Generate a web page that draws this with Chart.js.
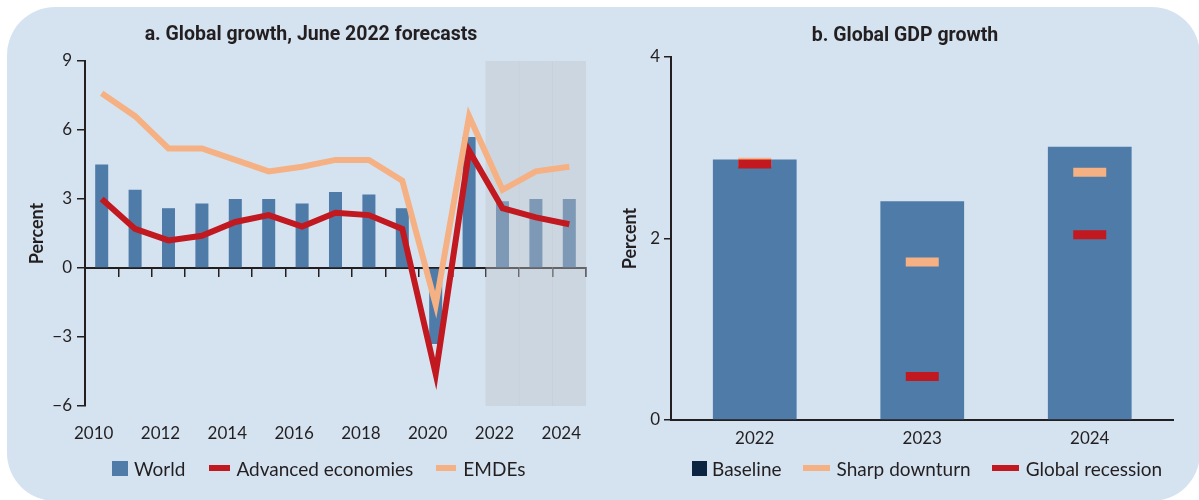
<!DOCTYPE html>
<html>
<head>
<meta charset="utf-8">
<script src="https://cdn.jsdelivr.net/npm/chart.js@4.4.0/dist/chart.umd.min.js"></script>
<style>
  html, body { margin: 0; padding: 0; background: #fff; overflow: hidden; }
  body { width: 1199px; height: 500px; position: relative; }
  #panel { position: absolute; left: 7px; top: 7px; width: 1193px; height: 494px; background: #d5e3f1; border-radius: 48px; }
  #chartA { position: absolute; left: 0; top: 0; }
  #chartB { position: absolute; left: 610px; top: 0; }
  .legend { position: absolute; top: 457px; height: 22px; display: flex; align-items: center;
    font: 19px Lato, "Open Sans", sans-serif; color: #231f20; white-space: nowrap; }
  .legend .item { display: flex; align-items: center; }
  .legend .sw { display: inline-block; }
  #legendA { left: 112px; }
  #legendB { left: 692px; }
</style>
</head>
<body>
<div id="panel"></div>
<canvas id="chartA" width="610" height="500"></canvas>
<canvas id="chartB" width="589" height="500"></canvas>
<div id="legendA" class="legend"></div>
<div id="legendB" class="legend"></div>
<script>
// panel a
const years = ["2010", "2011", "2012", "2013", "2014", "2015", "2016", "2017", "2018", "2019", "2020", "2021", "2022", "2023", "2024"];
const worldGrowth = [4.5, 3.4, 2.6, 2.8, 3.0, 3.0, 2.8, 3.3, 3.2, 2.6, -3.3, 5.7, 2.9, 3.0, 3.0];
const advancedGrowth = [3.0, 1.7, 1.2, 1.4, 2.0, 2.3, 1.8, 2.4, 2.3, 1.7, -4.6, 5.1, 2.6, 2.2, 1.9];
const emdeGrowth = [7.6, 6.6, 5.2, 5.2, 4.7, 4.2, 4.4, 4.7, 4.7, 3.8, -1.6, 6.6, 3.4, 4.2, 4.4];
const forecastYears = ["2022", "2023", "2024"];
const ticksA = [-6, -3, 0, 3, 6, 9];

// panel b
const scenarioYears = ["2022", "2023", "2024"];
const baseline = [2.87, 2.41, 3.01];
const sharpDownturn = [2.84, 1.74, 2.73];
const globalRecession = [2.82, 0.48, 2.04];
const ticksB = [0, 2, 4];

const ink = "#231f20";
const blue = "#4e7ba8";
const red = "#c1191f";
const orange = "#f5b183";
const navy = "#0c2342";
const tickFont = { family: "Lato, 'Open Sans', sans-serif", size: 17 };
const titleFont = { family: "Roboto, 'Open Sans', sans-serif", size: 19.5, weight: "bold" };
const axisTitleFont = { family: "Lato, 'Open Sans', sans-serif", size: 18, weight: "bold" };

const minus = (v) => String(v).replace("-", "\u2212");

// html legends: [label, colour, width, height, gap after swatch, gap after text]
const legendA = [
  ["World", blue, 16, 15, 6, 24],
  ["Advanced economies", red, 21, 6, 6, 23],
  ["EMDEs", orange, 20, 6, 7, 0]
];
const legendB = [
  ["Baseline", navy, 15, 15, 5, 21],
  ["Sharp downturn", orange, 27, 6, 7, 21],
  ["Global recession", red, 27, 6, 7, 0]
];
const fillLegend = (id, items) => {
  document.querySelector(id).innerHTML = items.map(([text, color, w, h, g1, g2]) => `
    <span class="item" style="margin-right:${g2}px">
      <span class="sw" style="width:${w}px;height:${h}px;background:${color};margin-right:${g1}px"></span>${text}
    </span>`).join("");
};
fillLegend("#legendA", legendA);
fillLegend("#legendB", legendB);

const shade = years.map((y) => forecastYears.includes(y) ? [ticksA[0], ticksA[ticksA.length - 1]] : null);

new Chart(document.querySelector("#chartA"), {
  data: {
    labels: years,
    datasets: [
      { type: "bar", label: "World", data: worldGrowth, backgroundColor: blue, grouped: false,
        categoryPercentage: 1, barPercentage: 0.39, order: 3 },
      { type: "bar", label: "forecast", data: shade, backgroundColor: "rgba(194,195,201,0.42)", grouped: false,
        categoryPercentage: 1, barPercentage: 1, order: 2 },
      { type: "line", label: "Advanced economies", data: advancedGrowth, borderColor: red, borderWidth: 6,
        pointRadius: 0, tension: 0, order: 1 },
      { type: "line", label: "EMDEs", data: emdeGrowth, borderColor: orange, borderWidth: 6,
        pointRadius: 0, tension: 0, order: 0 }
    ]
  },
  options: {
    responsive: false, animation: false, devicePixelRatio: 1, events: [],
    layout: { padding: { left: 36, right: 24, top: 0, bottom: 54 } },
    scales: {
      x: {
        type: "category", offset: true,
        grid: { display: false, drawTicks: false }, border: { display: false },
        ticks: { color: ink, font: tickFont, autoSkip: false, maxRotation: 0, labelOffset: -8, padding: 17,
          callback: (v, i) => i % 2 === 0 ? years[i] : "" },
        afterFit: (s) => { s.height = 40; }
      },
      zero: {
        type: "category", axis: "x", position: { y: 0 }, offset: true,
        grid: { offset: true, drawOnChartArea: false, drawTicks: true, tickLength: 8, color: ink, lineWidth: 1.5 },
        border: { display: true, color: ink, width: 2 },
        ticks: { display: false }
      },
      y: {
        min: ticksA[0], max: ticksA[ticksA.length - 1],
        afterBuildTicks: (s) => { s.ticks = ticksA.map((v) => ({ value: v })); },
        afterFit: (s) => { s.width = 49; },
        border: { color: ink, width: 2 },
        grid: { drawOnChartArea: false, color: ink, lineWidth: 1.5, tickLength: 8 },
        ticks: { color: ink, font: tickFont, padding: 5, callback: minus },
        title: { display: true, text: "Percent", color: ink, font: axisTitleFont, padding: { top: -9.8, bottom: 0 } }
      }
    },
    plugins: {
      tooltip: { enabled: false },
      legend: { display: false },
      title: { display: true, text: "a. Global growth, June 2022 forecasts", color: ink, font: titleFont,
        padding: { top: 23.3, bottom: 14.3 } }
    }
  }
});

new Chart(document.querySelector("#chartB"), {
  data: {
    labels: scenarioYears,
    datasets: [
      { type: "bar", label: "Baseline", data: baseline, backgroundColor: blue,
        categoryPercentage: 1, barPercentage: 0.5, order: 3 },
      { type: "line", label: "Sharp downturn", data: sharpDownturn, showLine: false, pointStyle: "line",
        pointRadius: 16.5, pointBorderWidth: 9, pointBorderColor: orange, borderColor: orange, order: 1 },
      { type: "line", label: "Global recession", data: globalRecession, showLine: false, pointStyle: "line",
        pointRadius: 16.5, pointBorderWidth: 9, pointBorderColor: red, borderColor: red, order: 0 }
    ]
  },
  options: {
    responsive: false, animation: false, devicePixelRatio: 1, events: [],
    layout: { padding: { left: 15, right: 14, top: 0, bottom: 40 } },
    scales: {
      x: {
        type: "category", offset: true,
        grid: { display: false, drawTicks: false },
        border: { display: true, color: ink, width: 2 },
        ticks: { color: ink, font: tickFont, maxRotation: 0, padding: 8 },
        afterFit: (s) => { s.height = 40; }
      },
      y: {
        min: ticksB[0], max: ticksB[ticksB.length - 1],
        afterBuildTicks: (s) => { s.ticks = ticksB.map((v) => ({ value: v })); },
        afterFit: (s) => { s.width = 46; },
        border: { color: ink, width: 2 },
        grid: { drawOnChartArea: false, color: ink, lineWidth: 1.5, tickLength: 7 },
        ticks: { color: ink, font: tickFont, padding: 4 },
        title: { display: true, text: "Percent", color: ink, font: axisTitleFont, padding: { top: -5.8, bottom: 0 } }
      }
    },
    plugins: {
      tooltip: { enabled: false },
      legend: { display: false },
      title: { display: true, text: "b. Global GDP growth", color: ink, font: titleFont,
        padding: { top: 24.3, bottom: 9.3 } }
    }
  }
});
</script>
</body>
</html>
